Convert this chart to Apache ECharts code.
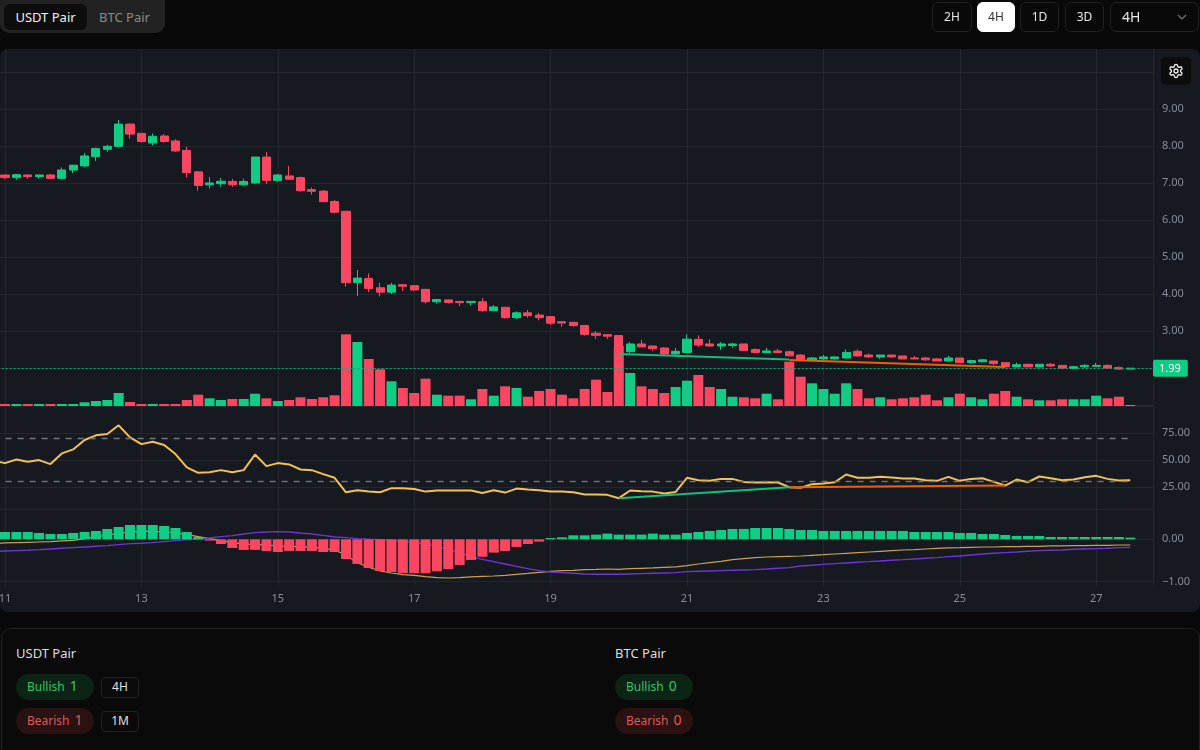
<!DOCTYPE html>
<html>
<head>
<meta charset="utf-8">
<title>USDT Pair chart</title>
<script src="https://cdn.jsdelivr.net/npm/echarts@6/dist/echarts.min.js"></script>
<style>
html,body{margin:0;padding:0;width:1200px;height:750px;overflow:hidden;background:#090909;font-family:"Noto Sans",sans-serif;color:#e4e4e4}
.abs{position:absolute;box-sizing:border-box}
#panel{left:0;top:49px;width:1200px;height:563px;background:#161a20;border-radius:8px}
#chart{left:-20px;top:0;width:1220px;height:750px}
#tabs{left:0;top:-8px;width:165px;height:41px;background:#222;border-radius:9px}
.tab{top:12px;height:26px;line-height:26px;font-size:13px;text-align:center;border-radius:6px}
.btn{top:2px;height:30px;line-height:28px;font-size:12px;text-align:center;border:1px solid #212121;border-radius:6px;color:#e8e8e8}
.btn.on{background:#fff;color:#333;border-color:#fff}
#gear{left:1161px;top:57px;width:30px;height:28px;background:#0c0c0c;border-radius:5px;display:flex;align-items:center;justify-content:center}
#card{left:1px;top:628px;width:1199px;height:140px;border:1px solid #222;border-radius:10px;background:#0a0a0a}
.title{font-size:13px;line-height:20px;color:#dedede;top:643px}
.pill{width:78px;height:26px;line-height:24px;border-radius:13px;font-size:12px;padding-left:11px;white-space:pre}
.pill b{font-weight:400;font-size:14px;margin-left:5px}
.bull{background:#0b2416;color:#33c36a}
.bear{background:#2a1112;color:#dd5b5b}
.badge{left:101px;width:38px;height:21px;line-height:18px;font-size:12px;text-align:center;border:1px solid #222;border-radius:4px;color:#e0e0e0}
</style>
</head>
<body>
<div id="panel" class="abs"></div>
<div id="chart" class="abs"></div>
<div id="tabs" class="abs">
  <div class="abs tab" style="left:4px;width:83px;background:#0d0d0d;color:#f0f0f0">USDT Pair</div>
  <div class="abs tab" style="left:87px;width:75px;color:#8a8a8a">BTC Pair</div>
</div>
<div class="abs btn" style="left:932px;width:40px">2H</div>
<div class="abs btn on" style="left:977px;width:38px">4H</div>
<div class="abs btn" style="left:1020px;width:39px">1D</div>
<div class="abs btn" style="left:1065px;width:39px">3D</div>
<div class="abs btn" style="left:1110px;width:89px;text-align:left;padding-left:11px;font-size:14px">4H
  <svg style="position:absolute;right:11px;top:10px" width="10" height="8" viewBox="0 0 10 8"><path d="M1 2 L5 6 L9 2" stroke="#777" stroke-width="1.2" fill="none"/></svg>
</div>
<div id="gear" class="abs">
  <svg width="16" height="16" viewBox="0 0 24 24" fill="none" stroke="#eee" stroke-width="2" stroke-linecap="round" stroke-linejoin="round"><path d="M12.22 2h-.44a2 2 0 0 0-2 2v.18a2 2 0 0 1-1 1.73l-.43.25a2 2 0 0 1-2 0l-.15-.08a2 2 0 0 0-2.73.73l-.22.38a2 2 0 0 0 .73 2.73l.15.1a2 2 0 0 1 1 1.72v.51a2 2 0 0 1-1 1.74l-.15.09a2 2 0 0 0-.73 2.73l.22.38a2 2 0 0 0 2.73.73l.15-.08a2 2 0 0 1 2 0l.43.25a2 2 0 0 1 1 1.73V20a2 2 0 0 0 2 2h.44a2 2 0 0 0 2-2v-.18a2 2 0 0 1 1-1.73l.43-.25a2 2 0 0 1 2 0l.15.08a2 2 0 0 0 2.73-.73l.22-.39a2 2 0 0 0-.73-2.73l-.15-.08a2 2 0 0 1-1-1.74v-.5a2 2 0 0 1 1-1.74l.15-.09a2 2 0 0 0 .73-2.73l-.22-.38a2 2 0 0 0-2.73-.73l-.15.08a2 2 0 0 1-2 0l-.43-.25a2 2 0 0 1-1-1.73V4a2 2 0 0 0-2-2z"/><circle cx="12" cy="12" r="3"/></svg>
</div>
<div id="card" class="abs"></div>
<div class="abs title" style="left:16px">USDT Pair</div>
<div class="abs pill bull" style="left:16px;top:674px">Bullish<b>1</b></div>
<div class="abs badge" style="top:677px">4H</div>
<div class="abs pill bear" style="left:16px;top:708px">Bearish<b>1</b></div>
<div class="abs badge" style="top:711px">1M</div>
<div class="abs title" style="left:615px">BTC Pair</div>
<div class="abs pill bull" style="left:615px;top:674px">Bullish<b>0</b></div>
<div class="abs pill bear" style="left:615px;top:708px">Bearish<b>0</b></div>

<script>
// [open, close, low, high] for each 4H candle
const candles = [
[7.2,7.205,7.15,7.25],[7.215,7.145,7.10,7.225],[7.145,7.225,7.09,7.24],[7.215,7.17,7.115,7.24],[7.17,7.215,7.115,7.225],
[7.215,7.125,7.10,7.24],[7.125,7.35,7.115,7.42],[7.35,7.48,7.27,7.49],[7.46,7.73,7.42,7.81],[7.71,7.93,7.595,7.955],
[7.91,7.99,7.84,8.03],[7.99,8.59,7.955,8.70],[8.59,8.32,8.19,8.61],[8.34,8.12,8.09,8.35],[8.08,8.26,8.01,8.34],
[8.27,8.12,8.09,8.32],[8.135,7.865,7.84,8.18],[7.88,7.28,7.145,7.98],[7.30,6.93,6.79,7.325],[6.95,7.00,6.85,7.16],
[6.98,7.045,6.90,7.135],[7.04,6.95,6.90,7.11],[6.95,7.04,6.92,7.115],[7.00,7.70,6.97,7.70],[7.70,7.07,6.97,7.84],
[7.07,7.215,7.03,7.24],[7.19,7.10,7.08,7.46],[7.145,6.79,6.765,7.17],[6.82,6.775,6.68,6.88],[6.78,6.495,6.495,6.81],
[6.50,6.21,6.18,6.54],[6.235,4.305,4.20,6.235],[4.305,4.43,3.95,4.65],[4.42,4.15,4.05,4.56],[4.17,4.05,3.93,4.305],
[4.05,4.24,4.00,4.30],[4.25,4.21,4.08,4.27],[4.225,4.11,4.07,4.235],[4.125,3.79,3.74,4.125],[3.79,3.85,3.74,3.87],
[3.84,3.77,3.74,3.85],[3.80,3.77,3.67,3.80],[3.77,3.80,3.685,3.80],[3.79,3.55,3.52,3.89],[3.55,3.65,3.54,3.70],
[3.64,3.36,3.33,3.65],[3.36,3.49,3.325,3.53],[3.49,3.415,3.36,3.57],[3.43,3.36,3.29,3.49],[3.39,3.21,3.16,3.40],
[3.25,3.215,3.11,3.25],[3.235,3.145,3.11,3.24],[3.15,2.91,2.875,3.16],[2.94,2.885,2.785,3.00],[2.90,2.86,2.785,2.91],
[2.875,2.38,2.35,2.875],[2.44,2.65,2.40,2.70],[2.65,2.57,2.56,2.76],[2.595,2.52,2.46,2.60],[2.54,2.38,2.35,2.56],
[2.38,2.45,2.325,2.54],[2.42,2.78,2.40,2.91],[2.775,2.62,2.57,2.88],[2.65,2.595,2.57,2.775],[2.595,2.65,2.49,2.70],
[2.61,2.65,2.55,2.68],[2.65,2.47,2.46,2.65],[2.50,2.42,2.40,2.53],[2.415,2.46,2.405,2.54],[2.46,2.42,2.405,2.52],
[2.44,2.33,2.31,2.47],[2.35,2.22,2.20,2.37],[2.22,2.27,2.22,2.30],[2.245,2.30,2.22,2.35],[2.245,2.30,2.235,2.30],
[2.27,2.42,2.26,2.505],[2.45,2.325,2.30,2.505],[2.35,2.30,2.27,2.395],[2.30,2.35,2.245,2.35],[2.35,2.30,2.27,2.35],
[2.325,2.245,2.245,2.325],[2.27,2.245,2.245,2.325],[2.27,2.22,2.19,2.30],[2.245,2.19,2.19,2.27],[2.19,2.27,2.18,2.325],
[2.27,2.145,2.145,2.27],[2.145,2.20,2.11,2.22],[2.17,2.22,2.15,2.245],[2.19,2.12,2.08,2.19],[2.145,2.03,2.02,2.145],
[2.03,2.09,2.02,2.145],[2.10,2.03,2.02,2.10],[2.03,2.10,2.02,2.10],[2.10,2.055,2.03,2.125],[2.07,2.00,1.97,2.07],
[1.99,2.035,1.965,2.06],[2.035,2.07,2.00,2.10],[2.045,2.07,2.03,2.135],[2.07,2.00,1.98,2.10],[2.01,1.97,1.945,2.045],
[1.97,1.995,1.965,2.00]
];
const volumes = [
2,2,2,2,2,2,2,2,3.7,5,
6,13,4,2,2,2,2,6,11.3,7.7,
6,7,7,12.3,7.7,5,6,8.7,7,8.7,
10.7,71.7,64,47,36.7,24.7,18,13,27.3,11.3,
10.3,10.3,6.7,17,10.3,19.7,18,9.3,15,17,
11.3,7.7,17,26.3,14,60,33,19.7,17,13,
19,25.3,31,19,17,9.3,8.7,7.7,12.3,6.7,
44.3,29.3,22.7,17,12.3,22.7,17,7.7,8.7,6.7,
7.7,8.7,11.3,5.7,8.7,12.3,8.7,6.7,12.3,15,
9.3,6.7,5.7,5.7,6.7,6.7,6.7,10.3,7.7,9.3,1
];
const rsiValues = [
49.6,47.4,50.8,48.6,50.2,46.5,56.4,60.1,68.8,73.1,
74.3,82.4,71.2,65.0,67.2,64.1,55.8,43.4,38.4,39.0,
40.9,39.0,40.9,55.4,44.6,47.4,46.2,41.5,40.9,37.2,
33.8,20.4,22.3,21.0,20.4,24.2,24.2,23.5,21.0,22.0,
22.0,22.0,22.0,19.8,22.3,20.1,23.8,22.9,22.3,21.0,
21.0,20.4,18.3,18.3,18.0,14.9,22.0,21.4,21.0,19.2,
20.7,33.8,31.6,31.0,32.8,32.8,30.0,29.4,29.7,29.4,
25.1,24.6,27.9,28.5,29.7,36.9,33.8,33.8,34.7,34.1,
33.1,33.1,31.6,31.0,34.7,31.0,32.8,33.4,30.0,26.6,
32.2,29.7,35.0,33.4,31.6,32.2,34.4,35.6,32.8,31.3,31.6
];
const macdHist = [
.173,.173,.173,.173,.150,.126,.126,.150,.173,.197,
.244,.290,.338,.338,.338,.314,.267,.173,.055,-.03,
-.11,-.204,-.25,-.25,-.275,-.30,-.275,-.275,-.275,-.30,
-.30,-.464,-.58,-.676,-.747,-.77,-.80,-.80,-.80,-.755,
-.70,-.605,-.487,-.41,-.314,-.275,-.18,-.11,-.055,.03,
.047,.094,.094,.11,.134,.11,.11,.11,.134,.11,
.11,.15,.173,.197,.22,.244,.244,.267,.267,.267,
.244,.22,.22,.197,.197,.197,.197,.197,.197,.197,
.197,.173,.173,.173,.173,.15,.15,.126,.126,.102,
.08,.08,.08,.055,.055,.055,.055,.055,.055,.055,.04
];
const macdLine = [
-.102,-.086,-.079,-.071,-.063,-.055,-.039,-.024,.016,.055,
.102,.142,.173,.189,.189,.173,.149,.110,.063,.016,
-.031,-.079,-.110,-.118,-.134,-.157,-.165,-.173,-.189,-.212,
-.252,-.369,-.550,-.660,-.747,-.794,-.833,-.849,-.881,-.904,
-.912,-.904,-.888,-.873,-.865,-.849,-.825,-.802,-.778,-.755,
-.739,-.731,-.715,-.708,-.700,-.708,-.692,-.684,-.676,-.660,
-.652,-.621,-.582,-.550,-.519,-.480,-.456,-.432,-.417,-.409,
-.401,-.393,-.377,-.362,-.346,-.330,-.314,-.299,-.283,-.267,
-.252,-.244,-.228,-.212,-.204,-.197,-.189,-.181,-.181,-.173,
-.173,-.165,-.165,-.157,-.157,-.149,-.149,-.142,-.142,-.134,-.134
];
const signalLine = [
-.291,-.275,-.267,-.259,-.244,-.228,-.212,-.197,-.181,-.165,
-.149,-.126,-.102,-.094,-.079,-.055,-.031,-.008,.008,.031,
.063,.086,.126,.157,.173,.181,.173,.149,.126,.094,
.055,.039,.016,0,-.008,-.024,-.047,-.079,-.110,-.173,
-.236,-.314,-.409,-.472,-.527,-.582,-.637,-.692,-.739,-.770,
-.786,-.802,-.818,-.825,-.825,-.825,-.818,-.810,-.802,-.794,
-.786,-.763,-.755,-.747,-.739,-.731,-.723,-.715,-.700,-.684,
-.668,-.629,-.613,-.590,-.574,-.558,-.542,-.527,-.511,-.495,
-.480,-.464,-.448,-.432,-.409,-.393,-.369,-.346,-.330,-.314,
-.299,-.283,-.267,-.259,-.252,-.236,-.228,-.220,-.212,-.197,-.189
];
const dayTicks = ['11','13','15','17','19','21','23','25','27'];
const priceTicks = [3,4,5,6,7,8,9];
const priceGrid = [1,2,3,4,5,6,7,8,9,10];
const rsiTicks = [25,50,75];
const macdTicks = [-1,0];
const lastPrice = 1.99;
const rsiBands = [70,30.5];
// divergence segments as [candle index, value]
const bullPrice = [[55,2.38],[70,2.23]];
const bearPrice = [[70,2.216],[89,2.03]];
const bullRsi = [[55,14.9],[70,25.1]];
const bearRsi = [[70,25.1],[89,26.6]];

const UP='#10cc84', DOWN='#fb4661', GRID='#23272e', TXT='#868e99';
const slots = candles.length + 2;
const categories = Array.from({length:slots},(_,i)=>String(i));
const isTick = i => i % 12 === 1;
const FONT = '"Noto Sans",sans-serif';

const grids = [
  {left:13.63,width:1159.37,top:49,height:357},
  {left:13.63,width:1159.37,top:406,height:103},
  {left:13.63,width:1159.37,top:509,height:77.5}
];
const xAxis = grids.map((g,i)=>({
  type:'category',gridIndex:i,data:categories,boundaryGap:false,
  axisLine:{show:true,lineStyle:{color:GRID,width:1}},
  axisTick:{show:false},
  splitLine:{show:true,interval:isTick,lineStyle:{color:GRID,width:1}},
  axisLabel:i===2?{show:true,interval:isTick,margin:7,color:TXT,fontSize:11,fontFamily:FONT,
    formatter:(v,idx)=>dayTicks[(idx-1)/12]||''}:{show:false}
}));
const fmt = v => v.toFixed(2).replace('-','\u2212');
const yBase = {position:'right',
  axisLine:{show:true,lineStyle:{color:GRID}},
  splitLine:{show:true,lineStyle:{color:GRID,width:1}}};
const yLabel = vals => ({show:true,customValues:vals,margin:9,color:TXT,fontSize:11,fontFamily:FONT,formatter:fmt});
const yAxis = [
  {...yBase,type:'value',gridIndex:0,min:0.973,max:10.62,axisTick:{show:false,customValues:priceGrid},axisLabel:yLabel(priceTicks)},
  {type:'value',gridIndex:0,min:0,max:357,show:false,splitLine:{show:false}},
  {...yBase,type:'value',gridIndex:1,min:4.9,max:100.3,axisTick:{show:false,customValues:rsiTicks},axisLabel:yLabel(rsiTicks)},
  {...yBase,type:'value',gridIndex:2,min:-1.113,max:0.715,axisTick:{show:false,customValues:macdTicks},axisLabel:yLabel(macdTicks)}
];
const segLine = list => ({
  silent:true,symbol:['none','none'],label:{show:false},animation:false,
  data:list.map(([p,c])=>[
    {coord:[String(p[0][0]),p[0][1]],lineStyle:{color:c,width:2,type:'solid'}},
    {coord:[String(p[1][0]),p[1][1]]}
  ])
});

const option = {
  animation:false,
  backgroundColor:'transparent',
  textStyle:{fontFamily:FONT},
  grid:grids,xAxis,yAxis,
  series:[
    {type:'bar',xAxisIndex:0,yAxisIndex:1,barWidth:10,z:2,
     data:volumes.map((v,i)=>({value:v,itemStyle:{color:candles[i][1]>=candles[i][0]?UP:DOWN}}))},
    {type:'candlestick',xAxisIndex:0,yAxisIndex:0,barWidth:8.6,z:3,data:candles,
     itemStyle:{color:UP,color0:DOWN,borderColor:UP,borderColor0:DOWN,borderWidth:1},
     markLine:{silent:true,symbol:['none','none'],animation:false,
       data:[{yAxis:lastPrice,lineStyle:{color:'#0fa873',width:1,type:[2,2]},
         label:{show:true,position:'end',distance:0,formatter:()=>lastPrice.toFixed(2),color:'#fff',
           backgroundColor:UP,fontSize:11,fontFamily:FONT,padding:[3,7,3,6],borderRadius:2}}]}},
    {type:'line',xAxisIndex:0,yAxisIndex:0,data:[],z:4,markLine:segLine([[bullPrice,'#12bd80'],[bearPrice,'#f25f00']])},
    {type:'line',xAxisIndex:1,yAxisIndex:2,data:rsiValues,z:3,showSymbol:false,smooth:false,
     lineStyle:{color:'#f3c252',width:2},
     markLine:{silent:true,symbol:['none','none'],animation:false,label:{show:false},
       data:rsiBands.map(b=>[{coord:['0',b],lineStyle:{color:'#70767e',width:1.4,type:[6,6]}},{coord:['100',b]}])}},
    {type:'line',xAxisIndex:1,yAxisIndex:2,data:[],z:4,markLine:segLine([[bullRsi,'#12bd80'],[bearRsi,'#f25f00']])},
    {type:'line',xAxisIndex:2,yAxisIndex:3,data:macdLine,z:2,showSymbol:false,lineStyle:{color:'#c9a24e',width:1.2}},
    {type:'line',xAxisIndex:2,yAxisIndex:3,data:signalLine,z:2,showSymbol:false,lineStyle:{color:'#6d35d6',width:1.4}},
    {type:'bar',xAxisIndex:2,yAxisIndex:3,barWidth:10,z:3,
     data:macdHist.map(v=>({value:v,itemStyle:{color:v>=0?UP:DOWN}}))}
  ]
};
const chart = echarts.init(document.getElementById('chart'),null,{renderer:'canvas'});
chart.setOption(option);
</script>
</body>
</html>
